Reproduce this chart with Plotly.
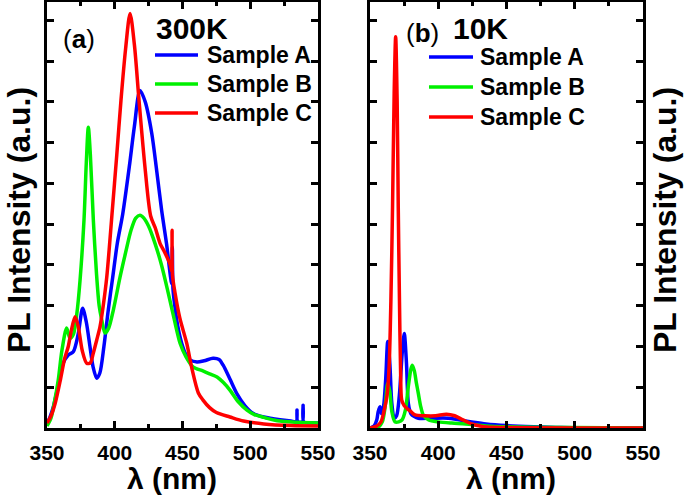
import plotly.graph_objects as go

# ---------------- data ----------------
# Panel (a): 300 K
a300_x = [350, 352, 354.7, 358, 362, 365.7, 369.4, 373, 376.3, 379, 381.7, 384, 386.7, 389, 392, 395.2,
          398.5, 401.9, 405.9, 410.7, 414.5, 418.6, 422.5, 427.3, 431, 434.6, 438.3, 441, 442, 442.5, 443,
          444.5, 446.5, 449.4, 452.5, 455.5, 460.7, 466, 472.5, 477, 480, 485, 490, 496, 502, 510, 522,
          530, 534, 534.5, 535, 538.5, 539, 539.5, 545, 550]
a300_y = [0.1, 0.25, 0.52, 1.0, 1.59, 1.79, 1.87, 2.3, 2.94, 2.6, 2.0, 1.5, 1.22, 1.35, 2.0, 2.89,
          3.7, 4.53, 5.25, 6.4, 7.4, 8.28, 8.0, 7.23, 6.3, 5.34, 4.5, 3.75, 3.55, 4.44, 3.4,
          2.95, 2.5, 2.08, 1.8, 1.67, 1.62, 1.65, 1.71, 1.68, 1.54, 1.2, 0.85, 0.55, 0.36, 0.27, 0.2,
          0.17, 0.16, 0.44, 0.16, 0.15, 0.56, 0.15, 0.13, 0.12]

b300_x = [350, 353, 355, 358.3, 361, 364.5, 367, 369.5, 372, 374.4, 377.3, 379, 380.5, 382, 384.2, 386.5,
          388.5, 390.4, 392.8, 395.5, 399, 403.9, 408, 412, 415.5, 418.6, 421.5, 425, 429.7, 434.5, 439.5,
          444, 448.2, 452.5, 457.7, 465, 470, 475.5, 480, 485, 491, 497.6, 503, 509, 520, 535, 550]
b300_y = [0.05, 0.25, 0.55, 1.18, 1.9, 2.45, 2.2, 2.3, 2.8, 3.63, 5.1, 6.5, 7.38, 6.7, 5.1, 3.8,
          3.0, 2.65, 2.33, 2.45, 2.9, 3.7, 4.3, 4.85, 5.15, 5.22, 5.15, 4.95, 4.53, 4.0, 3.31,
          2.65, 2.08, 1.75, 1.5, 1.4, 1.33, 1.25, 1.12, 0.93, 0.65, 0.44, 0.33, 0.27, 0.18, 0.14, 0.12]

c300_x = [350, 353, 356, 360, 363, 365.7, 368, 370.7, 373, 376, 379.3, 382, 384.2, 386.7, 389.1, 391.5,
          394.1, 398.2, 401.5, 404.6, 408, 411.3, 414.5, 417.9, 422.3, 426.5, 430, 433.4, 437, 441, 442,
          442.3, 442.6, 444.5, 448, 453.1, 457, 461.7, 465, 470, 475, 485, 495, 510, 530, 550]
c300_y = [0.12, 0.3, 0.6, 1.2, 1.7, 2.0, 2.4, 2.73, 2.5, 1.9, 1.59, 1.6, 1.84, 2.16, 2.48, 3.0,
          3.7, 5.34, 6.7, 8.04, 9.3, 10.17, 9.4, 8.04, 6.4, 5.2, 4.9, 4.53, 4.3, 4.0, 3.85,
          4.85, 3.75, 3.31, 2.7, 2.08, 1.45, 0.86, 0.69, 0.5, 0.38, 0.27, 0.17, 0.1, 0.06, 0.05]

# Panel (b): 10 K
a10_x = [350, 353, 355, 356, 357.3, 358.5, 360, 361.5, 363, 364.5, 366, 367.8, 369.5, 371.5, 373.5, 375.1,
         376.7, 378.1, 380, 382.5, 385.4, 395, 407.4, 415, 424.5, 435, 450, 470, 490, 550]
a10_y = [0, 0.05, 0.2, 0.4, 0.52, 0.35, 0.55, 1.2, 2.12, 1.6, 0.6, 0.24, 0.3, 0.8, 1.8, 2.32,
         1.6, 0.6, 0.35, 0.28, 0.24, 0.24, 0.24, 0.2, 0.15, 0.1, 0.06, 0.03, 0.01, 0]

b10_x = [350, 356, 359, 361, 363, 364.5, 366, 368.3, 371, 373.5, 376, 378, 380, 381, 382.5, 384,
         385.4, 387, 389, 393, 400, 410, 420, 435, 450, 550]
b10_y = [0, 0.02, 0.15, 0.5, 1.1, 0.9, 0.4, 0.15, 0.15, 0.2, 0.45, 1.0, 1.45, 1.54, 1.4, 1.1,
         0.85, 0.55, 0.32, 0.2, 0.15, 0.12, 0.1, 0.05, 0.03, 0]

c10_x = [350, 355, 358, 360.5, 362.5, 364, 365.3, 366.5, 367.7, 368.8, 369.9, 370.7, 371.6, 372.4, 373.2,
         375, 377, 380, 383, 390, 398, 406, 412, 418, 424.5, 432, 440, 550]
c10_y = [0, 0.05, 0.15, 0.45, 0.8, 1.5, 3.1, 5.4, 8.2, 9.6, 8.0, 5.4, 3.1, 1.4, 0.69,
         0.55, 0.48, 0.4, 0.32, 0.3, 0.3, 0.34, 0.3, 0.2, 0.1, 0.04, 0.02, 0]

series_names = ["Sample A", "Sample B", "Sample C"]
series_colors = ["#0000FF", "#00F000", "#FF0000"]
x_ticks = [350, 400, 450, 500, 550]
x_tick_labels = ["350", "400", "450", "500", "550"]
panel_labels = ["(<b>a</b>)", "(<b>b</b>)"]
temp_labels = ["300K", "10K"]
x_title = "λ (nm)"
y_title = "PL Intensity (a.u.)"

# ---------------- figure ----------------
W, H = 685, 498
FONT = "Liberation Sans, Arial, Helvetica, sans-serif"


def px(x):
    return x / W


def py(y):
    return 1 - y / H


fig = go.Figure()

panels = [
    ("x", "y", [(a300_x, a300_y), (b300_x, b300_y), (c300_x, c300_y)]),
    ("x2", "y2", [(a10_x, a10_y), (b10_x, b10_y), (c10_x, c10_y)]),
]
for xa, ya, data in panels:
    for (xs, ys), name, col in zip(data, series_names, series_colors):
        fig.add_trace(go.Scatter(
            x=xs, y=ys, mode="lines", name=name, xaxis=xa, yaxis=ya, showlegend=False,
            line=dict(color=col, width=3.5, shape="spline", smoothing=0.8),
        ))

ydom = [1 - 428 / H, 1 - 2 / H]
common_x = dict(
    range=[350, 550], tickmode="array", tickvals=x_ticks, ticktext=x_tick_labels,
    ticks="inside", ticklen=7, tickwidth=3, tickcolor="black",
    minor=dict(dtick=25, tick0=350, ticks="inside", ticklen=4, tickwidth=3, tickcolor="black"),
    showline=True, linewidth=3, linecolor="black", mirror="ticks",
    showgrid=False, zeroline=False,
    tickfont=dict(family=FONT, size=21, color="black", weight="bold"),
    ticklabelstandoff=4,
)
common_y = dict(
    range=[0, 10.45], dtick=1, tick0=0, ticks="inside", ticklen=7, tickwidth=3, tickcolor="black",
    showticklabels=False, showline=True, linewidth=3, linecolor="black", mirror="ticks",
    showgrid=False, zeroline=False,
)

fig.update_layout(
    width=W, height=H, margin=dict(l=0, r=0, t=0, b=0, autoexpand=False),
    paper_bgcolor="white", plot_bgcolor="white",
    xaxis=dict(domain=[px(47), px(318)], anchor="y", **common_x),
    yaxis=dict(domain=ydom, anchor="x", **common_y),
    xaxis2=dict(domain=[px(370), px(643)], anchor="y2", **common_x),
    yaxis2=dict(domain=ydom, anchor="x2", **common_y),
    showlegend=False,
)

ann = []
shapes = []
# legends (line sample + label) for each panel
legend_specs = [
    (155, 198, 205, [55, 84, 113]),
    (429, 473, 478, [57, 87, 117]),
]
for x0, x1, tx, ys in legend_specs:
    for name, col, yy in zip(series_names, series_colors, ys):
        shapes.append(dict(type="line", xref="paper", yref="paper",
                           x0=px(x0), x1=px(x1), y0=py(yy), y1=py(yy),
                           line=dict(color=col, width=3.5)))
        ann.append(dict(x=px(tx), y=py(yy), text="<b>%s</b>" % name, xanchor="left", yanchor="middle",
                        font=dict(family=FONT, size=23, color="black")))

ann.append(dict(x=px(61), y=py(39), text=panel_labels[0], xanchor="left", yanchor="middle",
                font=dict(family=FONT, size=26, color="black")))
ann.append(dict(x=px(154), y=py(28), text="<b>%s</b>" % temp_labels[0], xanchor="left", yanchor="middle",
                font=dict(family=FONT, size=30, color="black")))
ann.append(dict(x=px(404), y=py(33), text=panel_labels[1], xanchor="left", yanchor="middle",
                font=dict(family=FONT, size=26, color="black")))
ann.append(dict(x=px(451), y=py(28), text="<b>%s</b>" % temp_labels[1], xanchor="left", yanchor="middle",
                font=dict(family=FONT, size=30, color="black")))
for cx in (19, 665):
    ann.append(dict(x=px(cx), y=py(220), text="<b>%s</b>" % y_title, textangle=-90,
                    xanchor="center", yanchor="middle",
                    font=dict(family=FONT, size=32, color="black")))
for cx in (172, 511):
    ann.append(dict(x=px(cx), y=py(478), text="<b>%s</b>" % x_title,
                    xanchor="center", yanchor="middle",
                    font=dict(family=FONT, size=30, color="black")))
for a in ann:
    a.update(xref="paper", yref="paper", showarrow=False)
fig.update_layout(annotations=ann, shapes=shapes)

fig.write_html(
    "out.html",
    config={"responsive": False, "displayModeBar": False},
    post_script="document.body.style.margin='0';document.body.style.overflow='hidden';",
)
